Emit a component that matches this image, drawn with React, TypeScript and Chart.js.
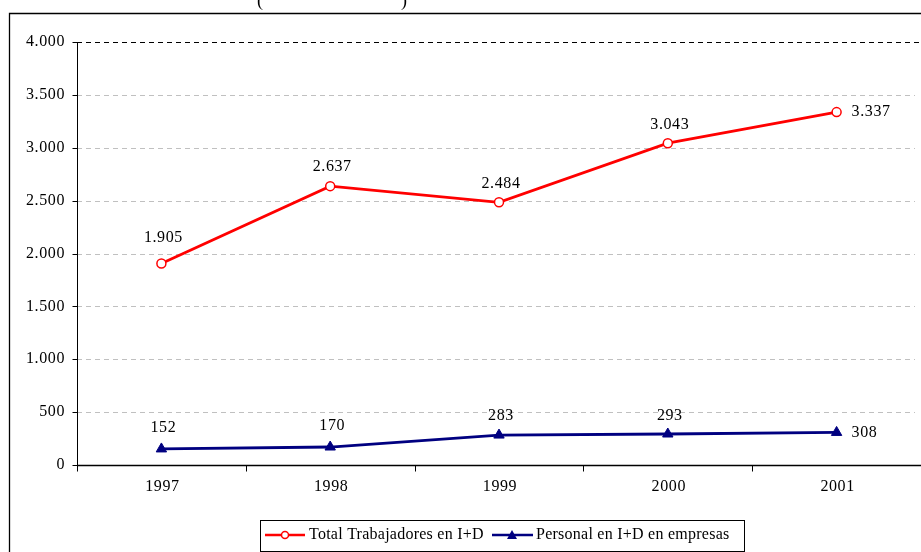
import React, { useEffect, useRef } from "react";
import { Chart, registerables } from "chart.js";

Chart.register(...registerables);

const years = ["1997", "1998", "1999", "2000", "2001"];
const totalTrabajadores = [1905, 2637, 2484, 3043, 3337];
const personalEmpresas = [152, 170, 283, 293, 308];
const yTicks = [0, 500, 1000, 1500, 2000, 2500, 3000, 3500, 4000];
const seriesNames = ["Total Trabajadores en I+D", "Personal en I+D en empresas"];

const RED = "#ff0000";
const NAVY = "#000080";
const FONT = "16px 'Liberation Serif', 'Times New Roman', serif";
const SPACING = "0.6px";
const LEGEND_SPACING = "0.25px";

const fmt = (v: number) => v.toLocaleString("de-DE");

// label placement style (offset above point; last point labeled to the right)
const totalLabelDy = [-26, -19, -19, -18, 0];
const personalLabelDy = [-21, -21, -19, -18, 0];

const customPlugin = {
  id: "custom",
  beforeDatasetsDraw(chart: any) {
    const ctx = chart.ctx;
    const x = chart.scales.x;
    const y = chart.scales.y;
    const area = chart.chartArea;
    ctx.save();
    // frame
    ctx.strokeStyle = "#000";
    ctx.lineWidth = 1.3;
    ctx.beginPath();
    ctx.moveTo(9.5, 552);
    ctx.lineTo(9.5, 13.5);
    ctx.lineTo(921, 13.5);
    ctx.stroke();
    // partial title parentheses
    ctx.fillStyle = "#000";
    ctx.font = "18px 'Liberation Serif', serif";
    ctx.textBaseline = "alphabetic";
    ctx.textAlign = "left";
    ctx.fillText("(", 257, 6);
    ctx.fillText(")", 401, 6);
    // grid
    ctx.lineWidth = 1;
    ctx.setLineDash([5, 4]);
    yTicks.forEach((t) => {
      if (t === 0) return;
      const py = Math.round(y.getPixelForValue(t)) + 0.5;
      ctx.strokeStyle = t === 4000 ? "#000" : "#c0c0c0";
      ctx.beginPath();
      ctx.moveTo(area.left, py);
      ctx.lineTo(t === 4000 ? area.right : area.right - 6, py);
      ctx.stroke();
    });
    ctx.setLineDash([]);
    // y axis
    ctx.strokeStyle = "#000";
    ctx.lineWidth = 1;
    const ax = Math.round(area.left) + 0.5;
    ctx.beginPath();
    ctx.moveTo(ax, area.top);
    ctx.lineTo(ax, area.bottom);
    ctx.stroke();
    yTicks.forEach((t) => {
      const py = Math.round(y.getPixelForValue(t)) + 0.5;
      ctx.beginPath();
      ctx.moveTo(ax - 5, py);
      ctx.lineTo(ax, py);
      ctx.stroke();
    });
    // x axis
    const by = Math.round(area.bottom) + 0.5;
    ctx.lineWidth = 1.6;
    ctx.beginPath();
    ctx.moveTo(area.left, by);
    ctx.lineTo(area.right, by);
    ctx.stroke();
    ctx.lineWidth = 1;
    const step = x.getPixelForValue(1) - x.getPixelForValue(0);
    for (let i = 0; i <= years.length; i++) {
      const px =
        i < years.length ? x.getPixelForValue(i) - step / 2 : x.getPixelForValue(i - 1) + step / 2;
      const rx = Math.round(px) + 0.5;
      ctx.beginPath();
      ctx.moveTo(rx, by);
      ctx.lineTo(rx, by + 6);
      ctx.stroke();
    }
    // tick labels
    ctx.font = FONT;
    (ctx as any).letterSpacing = SPACING;
    ctx.fillStyle = "#000";
    ctx.textAlign = "right";
    ctx.textBaseline = "middle";
    yTicks.forEach((t) => {
      ctx.fillText(fmt(t), 65, y.getPixelForValue(t));
    });
    ctx.textAlign = "center";
    years.forEach((yr, i) => {
      ctx.fillText(yr, x.getPixelForValue(i) + 1, 487);
    });
    ctx.restore();
  },
  afterDatasetsDraw(chart: any) {
    const ctx = chart.ctx;
    ctx.save();
    ctx.font = FONT;
    (ctx as any).letterSpacing = SPACING;
    ctx.fillStyle = "#000";
    ctx.textBaseline = "middle";
    const drawLabels = (di: number, data: number[], dys: number[]) => {
      const meta = chart.getDatasetMeta(di);
      meta.data.forEach((pt: any, i: number) => {
        if (i === data.length - 1) {
          ctx.textAlign = "left";
          ctx.fillText(fmt(data[i]), pt.x + 15, pt.y);
        } else {
          ctx.textAlign = "center";
          ctx.fillText(fmt(data[i]), pt.x + 2, pt.y + dys[i]);
        }
      });
    };
    drawLabels(0, totalTrabajadores, totalLabelDy);
    drawLabels(1, personalEmpresas, personalLabelDy);
    ctx.restore();
  },
  afterDraw(chart: any) {
    const ctx = chart.ctx;
    ctx.save();
    // legend box
    ctx.strokeStyle = "#000";
    ctx.lineWidth = 1;
    ctx.strokeRect(260.5, 520.5, 484, 31);
    const ly = 535;
    // red sample
    ctx.strokeStyle = RED;
    ctx.lineWidth = 2.5;
    ctx.beginPath();
    ctx.moveTo(265, ly);
    ctx.lineTo(305, ly);
    ctx.stroke();
    ctx.fillStyle = "#fff";
    ctx.lineWidth = 1.5;
    ctx.beginPath();
    ctx.arc(285, ly, 3.5, 0, Math.PI * 2);
    ctx.fill();
    ctx.stroke();
    // navy sample
    ctx.strokeStyle = NAVY;
    ctx.lineWidth = 2.5;
    ctx.beginPath();
    ctx.moveTo(492, ly);
    ctx.lineTo(533, ly);
    ctx.stroke();
    ctx.fillStyle = NAVY;
    ctx.beginPath();
    ctx.moveTo(512, ly - 5);
    ctx.lineTo(517, ly + 4);
    ctx.lineTo(507, ly + 4);
    ctx.closePath();
    ctx.fill();
    // texts
    ctx.fillStyle = "#000";
    ctx.font = FONT;
    (ctx as any).letterSpacing = LEGEND_SPACING;
    ctx.textAlign = "left";
    ctx.textBaseline = "middle";
    ctx.fillText(seriesNames[0], 309, ly);
    ctx.fillText(seriesNames[1], 536, ly);
    ctx.restore();
  },
};

export default function App() {
  const ref = useRef<HTMLCanvasElement | null>(null);
  useEffect(() => {
    if (!ref.current) return;
    const chart = new Chart(ref.current, {
      type: "line",
      data: {
        labels: years,
        datasets: [
          {
            label: seriesNames[0],
            data: totalTrabajadores,
            borderColor: RED,
            borderWidth: 2.8,
            pointStyle: "circle",
            pointRadius: 4.5,
            pointBorderWidth: 1.5,
            pointBackgroundColor: "#fff",
            pointBorderColor: RED,
            tension: 0,
          },
          {
            label: seriesNames[1],
            data: personalEmpresas,
            borderColor: NAVY,
            borderWidth: 2.8,
            pointStyle: "triangle",
            pointRadius: 6,
            pointBorderWidth: 1,
            pointBackgroundColor: NAVY,
            pointBorderColor: NAVY,
            tension: 0,
          },
        ],
      },
      options: {
        responsive: false,
        animation: false,
        layout: { autoPadding: false, padding: { top: 42, left: 0, right: 0, bottom: 0 } },
        plugins: { legend: { display: false }, tooltip: { enabled: false } },
        scales: {
          x: {
            type: "category",
            offset: true,
            grid: { display: false },
            border: { display: false },
            ticks: { display: false },
            afterFit: (s: any) => {
              s.height = 87;
            },
          },
          y: {
            min: 0,
            max: 4000,
            grid: { display: false },
            border: { display: false },
            ticks: { display: false, stepSize: 500 },
            afterFit: (s: any) => {
              s.width = 77;
            },
          },
        },
      },
      plugins: [customPlugin],
    });
    return () => chart.destroy();
  }, []);
  return (
    <div style={{ position: "fixed", left: 0, top: 0, width: 921, height: 552, background: "#fff" }}>
      <canvas ref={ref} width={921} height={552} style={{ width: 921, height: 552, display: "block" }} />
    </div>
  );
}
